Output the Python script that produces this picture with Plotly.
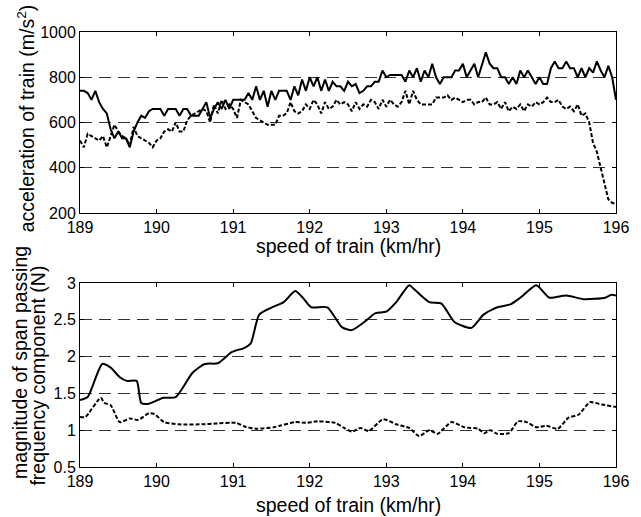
import numpy as np
import plotly.graph_objects as go
from plotly.subplots import make_subplots

# ---- top panel data (speed step 0.05 km/hr) ----
speed_top = [round(189 + 0.05 * i, 2) for i in range(141)]
accel_solid = [
    740, 740, 730, 700, 740, 690, 660, 640, 570, 530,
    560, 530, 530, 490, 560, 600, 630, 620, 650, 660,
    660, 660, 630, 660, 660, 660, 630, 660, 660, 630,
    630, 630, 660, 690, 620, 660, 690, 660, 700, 660,
    700, 700, 700, 700, 730, 700, 760, 700, 740, 670,
    740, 700, 740, 740, 740, 700, 760, 720, 790, 740,
    800, 760, 800, 740, 790, 740, 780, 760, 760, 740,
    780, 760, 770, 730, 740, 760, 760, 780, 780, 830,
    800, 810, 810, 810, 810, 780, 830, 800, 840, 780,
    830, 800, 860, 800, 770, 800, 800, 800, 830, 830,
    860, 800, 830, 860, 800, 860, 910, 860, 840, 840,
    800, 800, 770, 800, 770, 830, 800, 830, 800, 770,
    800, 770, 770, 840, 870, 840, 840, 870, 840, 840,
    800, 840, 800, 840, 820, 870, 830, 800, 850, 800,
    700,
]
accel_dashed = [
    520, 490, 550, 540, 530, 520, 540, 490, 540, 590,
    560, 540, 530, 500, 580, 540, 530, 520, 510, 490,
    520, 530, 560, 570, 560, 600, 560, 560, 610, 630,
    640, 650, 660, 650, 600, 680, 640, 700, 660, 680,
    660, 620, 700, 690, 680, 650, 620, 610, 600, 590,
    590, 590, 630, 630, 640, 690, 650, 640, 650, 680,
    660, 700, 680, 640, 690, 660, 670, 700, 680, 690,
    680, 650, 690, 660, 680, 670, 700, 690, 660, 700,
    670, 700, 680, 670, 690, 740, 680, 740, 700, 680,
    680, 680, 680, 710, 710, 710, 720, 700, 710, 700,
    690, 700, 700, 680, 690, 690, 710, 680, 680, 690,
    660, 690, 650, 670, 660, 680, 650, 680, 670, 690,
    680, 690, 710, 690, 690, 700, 670, 660, 670, 650,
    680, 630, 640, 600, 510, 470, 400, 330, 260, 245,
    240,
]

# ---- bottom panel data ----
speed_bot_solid = [189.0, 189.1, 189.29, 189.4, 189.52, 189.61, 189.74, 189.8, 189.9,
                   190.09, 190.25, 190.47, 190.63, 190.8, 190.98, 191.15, 191.23, 191.34,
                   191.49, 191.66, 191.81, 191.91, 192.02, 192.23, 192.42, 192.55, 192.7,
                   192.86, 193.0, 193.13, 193.3, 193.38, 193.56, 193.72, 193.89, 194.11,
                   194.27, 194.45, 194.62, 194.75, 194.96, 195.13, 195.35, 195.58, 195.86,
                   195.94, 196.0]
mag_solid = [1.41, 1.45, 1.90, 1.85, 1.72, 1.67, 1.67, 1.37, 1.36,
             1.44, 1.45, 1.78, 1.90, 1.91, 2.06, 2.12, 2.18, 2.57,
             2.66, 2.74, 2.89, 2.80, 2.67, 2.67, 2.40, 2.36, 2.46,
             2.59, 2.61, 2.74, 2.97, 2.90, 2.74, 2.72, 2.47, 2.39,
             2.57, 2.67, 2.71, 2.80, 2.97, 2.80, 2.83, 2.78, 2.80,
             2.84, 2.83]
speed_bot_dashed = [189.0, 189.07, 189.27, 189.32, 189.4, 189.52, 189.65, 189.76, 189.9,
                    189.97, 190.1, 190.29, 190.59, 190.77, 191.04, 191.15, 191.3, 191.53,
                    191.61, 191.81, 191.95, 192.1, 192.33, 192.45, 192.55, 192.66, 192.77,
                    192.96, 193.13, 193.3, 193.43, 193.56, 193.67, 193.85, 194.02, 194.2,
                    194.28, 194.36, 194.45, 194.6, 194.72, 194.83, 194.96, 195.09, 195.24,
                    195.38, 195.51, 195.66, 195.81, 195.98, 196.0]
mag_dashed = [1.18, 1.18, 1.44, 1.37, 1.34, 1.11, 1.16, 1.14, 1.23,
              1.22, 1.11, 1.08, 1.08, 1.09, 1.10, 1.05, 1.02, 1.04,
              1.06, 1.11, 1.10, 1.12, 1.10, 1.03, 0.98, 1.03, 0.99,
              1.15, 1.08, 1.03, 0.92, 1.00, 0.95, 1.11, 1.04, 1.02,
              0.96, 1.00, 0.95, 0.96, 1.12, 1.11, 1.04, 1.06, 1.02,
              1.17, 1.21, 1.38, 1.35, 1.32, 1.32]

x_ticks = [189, 190, 191, 192, 193, 194, 195, 196]
top_yticks = [200, 400, 600, 800, 1000]
bot_yticks = [0.5, 1, 1.5, 2, 2.5, 3]
bot_ytick_text = ["0.5", "1", "1.5", "2", "2.5", "3"]

FONT = "Liberation Sans, Arial, sans-serif"
TITLE_FONT = dict(family=FONT, size=19.5, color="black")

fig = make_subplots(rows=2, cols=1, vertical_spacing=0.16)

fig.add_trace(go.Scatter(x=speed_top, y=accel_solid, mode="lines",
                         line=dict(color="black", width=2)), row=1, col=1)
fig.add_trace(go.Scatter(x=speed_top, y=accel_dashed, mode="lines",
                         line=dict(color="black", width=2, dash="4px,2px")), row=1, col=1)
fig.add_trace(go.Scatter(x=speed_bot_solid, y=mag_solid, mode="lines",
                         line=dict(color="black", width=2, shape="spline", smoothing=0.6)), row=2, col=1)
fig.add_trace(go.Scatter(x=speed_bot_dashed, y=mag_dashed, mode="lines",
                         line=dict(color="black", width=2, dash="4px,2px", shape="spline", smoothing=0.6)), row=2, col=1)

axis_common = dict(showline=True, linecolor="black", linewidth=1, mirror="ticks",
                   ticks="inside", ticklen=4, tickcolor="black", zeroline=False,
                   ticklabeloverflow="allow",
                   tickfont=dict(family=FONT, size=16, color="black"))

for r in (1, 2):
    fig.update_xaxes(range=[189, 196], tickvals=x_ticks, showgrid=False,
                     ticklabelstandoff=0, row=r, col=1, **axis_common)

fig.update_yaxes(range=[200, 1000], tickvals=top_yticks, showgrid=True,
                 gridcolor="#333", gridwidth=1, griddash="12px,7px",
                 row=1, col=1, **axis_common)
fig.update_yaxes(range=[0.5, 3], tickvals=bot_yticks, ticktext=bot_ytick_text, showgrid=True,
                 gridcolor="#333", gridwidth=1, griddash="12px,7px",
                 row=2, col=1, **axis_common)

annotations = [
    dict(text="speed of train (km/hr)", x=0.5, y=(467 - 246) / 435, textangle=0),
    dict(text="speed of train (km/hr)", x=0.5, y=(467 - 505) / 435, textangle=0),
    dict(text="acceleration of train (m/s<sup>2</sup>)", x=(25 - 80) / 548, y=0.802, textangle=-90),
    dict(text="magnitude of span passing", x=(18 - 80) / 548, y=0.24, textangle=-90),
    dict(text="frequency component (N)", x=(37 - 80) / 548, y=0.21, textangle=-90),
]
for a in annotations:
    fig.add_annotation(xref="paper", yref="paper", showarrow=False,
                       xanchor="center", yanchor="middle", font=TITLE_FONT, **a)

fig.update_layout(
    width=641, height=517,
    margin=dict(l=80, r=13, t=32, b=50),
    paper_bgcolor="white", plot_bgcolor="white",
    showlegend=False,
    xaxis=dict(domain=[0, 1]), xaxis2=dict(domain=[0, 1]),
    yaxis=dict(domain=[0.584, 1.0]), yaxis2=dict(domain=[0.0, 0.423]),
)

fig.write_html("out.html")
